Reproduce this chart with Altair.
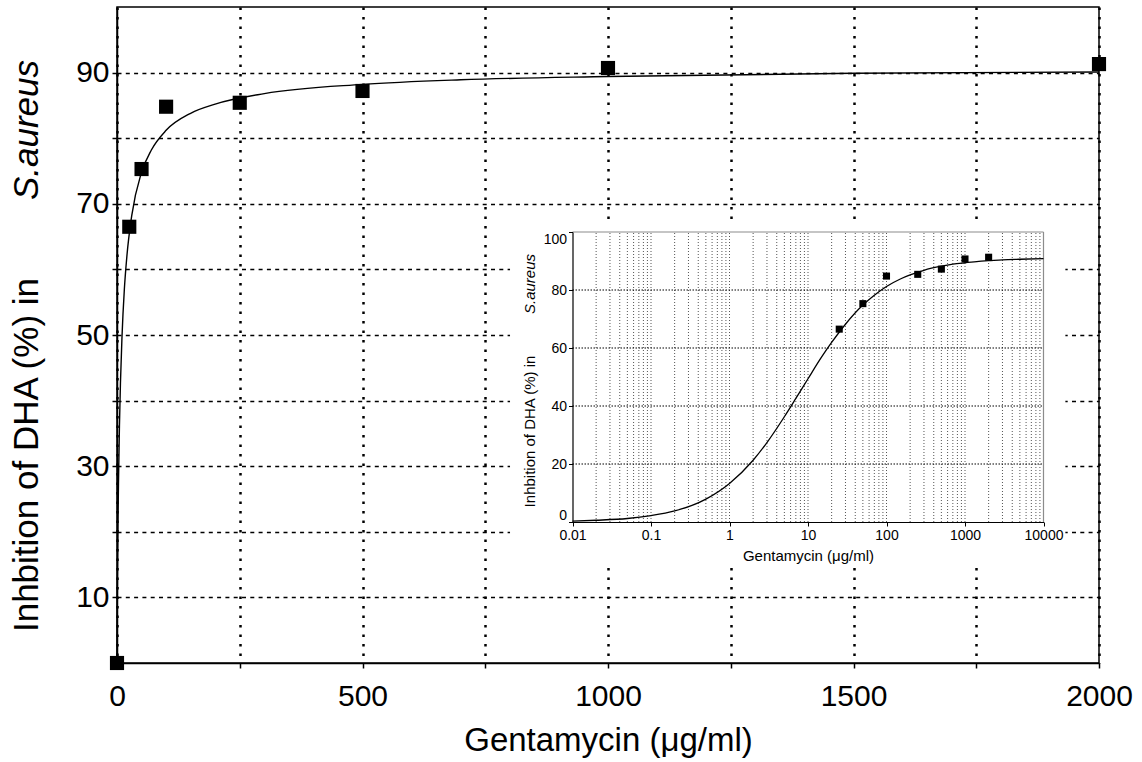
import altair as alt
import pandas as pd

# ---------------- data ----------------
CONC = [0, 25, 50, 100, 250, 500, 1000, 2000]            # Gentamycin (ug/ml)
INHIB = [0.0, 66.5, 75.3, 84.8, 85.4, 87.2, 90.7, 91.3]   # inhibition (%)

# fitted curve (log axis) and the main chart
CURVE_X = [0.01, 0.02, 0.05, 0.1, 0.2, 0.5, 1, 2, 3, 5, 7, 10, 15, 20, 30, 50, 70,
           100, 150, 200, 300, 500, 700, 1000, 1500, 2000, 3000, 5000, 10000]
CURVE_Y = [0.3, 0.6, 1.2, 2.2, 3.8, 7.9, 13.3, 21.3, 27.4, 36.3, 42.6, 49.4, 57.0, 61.9, 68.2, 74.8, 78.2,
           81.2, 83.8, 85.2, 86.8, 88.2, 88.9, 89.4, 89.9, 90.1, 90.4, 90.6, 90.8]

MAIN_X_TICKS = [0, 250, 500, 750, 1000, 1250, 1500, 1750, 2000]
MAIN_Y_TICKS = [10, 20, 30, 40, 50, 60, 70, 80, 90]
INSET_X_TICKS = [0.01, 0.1, 1, 10, 100, 1000, 10000]
INSET_Y_TICKS = [0, 20, 40, 60, 80, 100]
INSET_DECADES = [0.01, 0.1, 1, 10, 100, 1000]
INSET_MINOR_STEPS = [2, 3, 4, 5, 6, 7, 8, 9]
INSET_H_GRID = [20, 40, 60, 80]
INSET_BOX_X = [0.0016, 19000]
INSET_BOX_Y = [-15, 102.5]

X_TITLE = "Gentamycin (μg/ml)"
Y_TITLE = "Inhbition of DHA (%) in"
Y_TITLE_ITALIC = "S.aureus"
FONT = "Liberation Sans"

# ---------------- tables ----------------
pts = pd.DataFrame({"conc": CONC, "inhib": INHIB})
main_curve = pd.DataFrame({
    "conc": [0] + [x for x in CURVE_X if x <= 2000],
    "inhib": [0.0] + [y for x, y in zip(CURVE_X, CURVE_Y) if x <= 2000],
})
inset_curve = pd.DataFrame({"conc": CURVE_X, "inhib": CURVE_Y})
inset_pts = pts[pts["conc"] > 0]

vgrid_vals = [d * k for d in INSET_DECADES for k in INSET_MINOR_STEPS] + INSET_DECADES[1:]
inset_vgrid = pd.DataFrame({"conc": vgrid_vals, "inhib": [0] * len(vgrid_vals),
                            "inhib2": [100] * len(vgrid_vals)})
inset_hgrid = pd.DataFrame({"conc": [0.01] * len(INSET_H_GRID), "conc2": [10000] * len(INSET_H_GRID),
                            "inhib": INSET_H_GRID})
inset_frame = pd.DataFrame({"conc": [0.01, 10000], "conc2": [10000, 10000],
                            "inhib": [100, 0], "inhib2": [100, 100]})
inset_box = pd.DataFrame({"conc": [INSET_BOX_X[0]], "conc2": [INSET_BOX_X[1]],
                          "inhib": [INSET_BOX_Y[0]], "inhib2": [INSET_BOX_Y[1]]})


# ---------------- main encodings ----------------
def x_main():
    return alt.X("conc:Q",
                 scale=alt.Scale(domain=[0, 2000], nice=False, zero=False),
                 axis=alt.Axis(orient="bottom", values=MAIN_X_TICKS, format="d",
                               labelExpr="datum.value % 500 == 0 ? datum.label : ''",
                               labelFontSize=30, labelPadding=13, labelFlush=False, labelOverlap=False,
                               tickSize=5, tickWidth=1.5, domainWidth=1.5,
                               grid=True, gridColor="black", gridDash=[2.5, 7], gridWidth=2.5,
                               title=X_TITLE, titleFontSize=33, titleBaseline="alphabetic",
                               titleY=87, zindex=0))


def y_main():
    return alt.Y("inhib:Q",
                 scale=alt.Scale(domain=[0, 100], nice=False, zero=False),
                 axis=alt.Axis(orient="left", values=MAIN_Y_TICKS,
                               labelExpr="datum.value % 20 == 10 ? datum.label : ''",
                               labelFontSize=30, labelPadding=3, labelFlush=False, labelOverlap=False,
                               tickSize=5, tickWidth=1.5, domainWidth=1.5,
                               grid=True, gridColor="black", gridDash=[4, 4.3], gridWidth=1.7,
                               title=Y_TITLE, titleFontSize=35, titleAngle=270, titleAlign="center",
                               titleBaseline="alphabetic", titleX=-79.5, titleY=447.5, zindex=0))


main_line = alt.Chart(main_curve).mark_line(color="black", strokeWidth=1.4, interpolate="monotone").encode(
    x=x_main(), y=y_main())
main_pts = alt.Chart(pts).mark_point(shape="square", filled=True, color="black", size=200, opacity=1).encode(
    x=x_main(), y=y_main())
main_ital = alt.Chart(pd.DataFrame({"label": [Y_TITLE_ITALIC]})).mark_text(
    angle=270, align="center", baseline="alphabetic", font=FONT, fontSize=35,
    fontStyle="italic", color="black").encode(text="label:N", x=alt.value(-79.5), y=alt.value(123))

main_layer = alt.layer(main_line, main_pts, main_ital)


# ---------------- inset encodings ----------------
def x_in():
    return alt.X("conc:Q",
                 scale=alt.Scale(type="log", domain=[0.01, 10000], range=[455.5, 926.5], nice=False),
                 axis=alt.Axis(orient="bottom", offset=-141, values=INSET_X_TICKS, format="~g",
                               labelFontSize=14, labelPadding=2, labelFlush=False, labelOverlap=False,
                               tickSize=4, tickWidth=1, domainWidth=1.2, grid=False,
                               title=X_TITLE, titleFontSize=15, titleBaseline="alphabetic",
                               titleY=38, zindex=1))


def y_in():
    return alt.Y("inhib:Q",
                 scale=alt.Scale(domain=[0, 100], range=[515, 225], nice=False, zero=False),
                 axis=alt.Axis(orient="left", offset=-455.5, values=INSET_Y_TICKS,
                               labelFontSize=14, labelPadding=2, labelFlush=True, labelOverlap=False,
                               tickSize=4, tickWidth=1, domainWidth=1.2, grid=False,
                               title=Y_TITLE, titleFontSize=15, titleAngle=270, titleAlign="center",
                               titleBaseline="alphabetic", titleX=-38, titleY=424, zindex=1))


in_box = alt.Chart(inset_box).mark_rect(color="white", opacity=1).encode(
    x=x_in(), x2="conc2:Q", y=y_in(), y2="inhib2:Q")
in_vgrid = alt.Chart(inset_vgrid).mark_rule(color="#555555", strokeWidth=1, strokeDash=[1, 2]).encode(
    x=x_in(), y=y_in(), y2="inhib2:Q")
in_hgrid = alt.Chart(inset_hgrid).mark_rule(color="black", strokeWidth=1, strokeDash=[1.5, 1.5]).encode(
    x=x_in(), x2="conc2:Q", y=y_in())
in_frame = alt.Chart(inset_frame).mark_rule(color="#8c8c8c", strokeWidth=1.2).encode(
    x=x_in(), x2="conc2:Q", y=y_in(), y2="inhib2:Q")
in_line = alt.Chart(inset_curve).mark_line(color="black", strokeWidth=1.3, interpolate="monotone").encode(
    x=x_in(), y=y_in())
in_pts = alt.Chart(inset_pts).mark_point(shape="square", filled=True, color="black", size=50, opacity=1).encode(
    x=x_in(), y=y_in())
in_ital = alt.Chart(pd.DataFrame({"label": [Y_TITLE_ITALIC]})).mark_text(
    angle=270, align="center", baseline="alphabetic", font=FONT, fontSize=15,
    fontStyle="italic", color="black").encode(text="label:N", x=alt.value(417.5), y=alt.value(277))

inset_layer = alt.layer(in_box, in_vgrid, in_hgrid, in_frame, in_line, in_pts, in_ital)

chart = alt.layer(main_layer, inset_layer).resolve_scale(
    x="independent", y="independent"
).properties(
    width=982, height=656,
    autosize=alt.AutoSizeParams(type="none"),
    padding={"left": 117, "top": 7, "right": 43, "bottom": 99},
    background="white",
).configure_view(
    stroke="black", strokeWidth=1.5
).configure_axis(
    labelFont=FONT, titleFont=FONT, labelColor="black", titleColor="black",
    titleFontWeight="normal", domainColor="black", tickColor="black",
)

chart.save("out.html", embed_options={"renderer": "svg", "actions": False})
